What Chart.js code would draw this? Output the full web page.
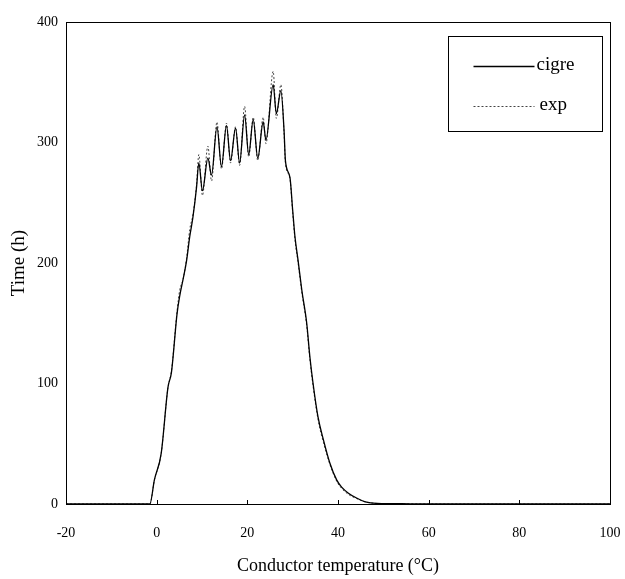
<!DOCTYPE html>
<html><head><meta charset="utf-8">
<script src="https://cdn.jsdelivr.net/npm/chart.js@4/dist/chart.umd.min.js"></script>
<style>html,body{margin:0;padding:0;background:#fff;}#wrap{width:625px;height:579px;}</style>
</head><body><div id="wrap"><canvas id="c" width="625" height="579"></canvas></div>
<script>
const temps = [-20,-2,-1.5,-0.5,1,2.5,3.25,4.5,5.1,5.8,6.6,7.3,8.0,8.8,9.3,10.1,11.3,12.1,13.3,14.3,15.4,16.3,17.4,18.3,19.4,20.3,21.3,22.3,23.5,24.1,25.7,26.4,27.4,28.1,28.4,29.4,30.0,30.5,31.2,32.0,33.1,33.8,34.5,35.6,36.8,38.2,39.7,40.8,42.3,44.1,46.3,48.6,52,56,60,100];
const cigre = [0,0,0,20,42,97,109,158,173,186,202,222,238,263,283,260,287,273,313,280,314,285,312,283,323,290,319,287,317,302,348,324,343,310,285,271,244,222,202,178,150,122,100,72,53,34,20,14,9,5,1.5,0.5,0.3,0.1,0,0];
const expData = [0,0,0,20,42,97,110,160,178,186,204,228,240,265,290,256,297,268,317,278,316,283,313,281,330,288,321,285,321,299,359,320,348,308,283,270,242,220,200,176,148,120,98,70,51,33,19,13,8,4.5,1.5,0.5,0.3,0.1,0,0];
const xTicks = [-20,0,20,40,60,80,100];
const yTicks = [0,100,200,300,400];
const seriesNames = ['cigre','exp'];

const FONT = '"Liberation Serif", "Times New Roman", serif';

const framePlugin = {
  id: 'frame',
  afterDatasetsDraw(chart) {
    const {ctx, chartArea: a, scales} = chart;
    ctx.save();
    ctx.strokeStyle = '#000';
    ctx.lineWidth = 1;
    ctx.strokeRect(Math.round(a.left)+0.5, Math.round(a.top)+0.5, Math.round(a.right-a.left), Math.round(a.bottom-a.top));
    ctx.beginPath();
    xTicks.forEach(v => {
      const px = Math.round(scales.x.getPixelForValue(v)) + 0.5;
      ctx.moveTo(px, a.bottom); ctx.lineTo(px, a.bottom - 4);
    });
    ctx.stroke();
    const bx = Math.round(a.right) - 161.5, by = Math.round(a.top) + 14.5, bw = 154, bh = 95;
    ctx.strokeRect(bx, by, bw, bh);
    const ds = chart.data.datasets;
    const rows = [by + 30, by + 70];
    ds.forEach((d, i) => {
      ctx.beginPath();
      ctx.strokeStyle = d.borderColor;
      ctx.lineWidth = d.borderWidth;
      ctx.setLineDash(d.borderDash || []);
      ctx.moveTo(bx + 25, rows[i]); ctx.lineTo(bx + 86, rows[i]);
      ctx.stroke();
      ctx.setLineDash([]);
      ctx.fillStyle = '#000';
      ctx.font = '19px ' + FONT;
      ctx.textBaseline = 'middle';
      ctx.fillText(d.label, bx + 88 + (i === 1 ? 3 : 0), rows[i] - 1);
    });
    ctx.restore();
  }
};

new Chart(document.getElementById('c'), {
  type: 'line',
  data: {
    datasets: [
      { label: seriesNames[0], data: temps.map((t,i)=>({x:t,y:cigre[i]})), borderColor: '#000', borderWidth: 1.3, pointRadius: 0, tension: 0.4, cubicInterpolationMode: 'monotone', fill: false },
      { label: seriesNames[1], data: temps.map((t,i)=>({x:t,y:expData[i]})), borderColor: '#444', borderWidth: 1, borderDash: [2,2], pointRadius: 0, tension: 0.4, cubicInterpolationMode: 'monotone', fill: false }
    ]
  },
  options: {
    responsive: false,
    animation: false,
    devicePixelRatio: 1,
    layout: { padding: { top: 22, right: 0, bottom: 2, left: 0 } },
    plugins: { legend: { display: false }, tooltip: { enabled: false } },
    scales: {
      x: {
        type: 'linear', min: -20, max: 100,
        afterBuildTicks: s => { s.ticks = xTicks.map(v => ({value: v})); },
        grid: { display: false },
        border: { display: false },
        ticks: { color: '#000', font: { family: FONT, size: 14 }, padding: 13, maxRotation: 0 },
        title: { display: true, text: 'Conductor temperature (°C)', color: '#000', font: { family: FONT, size: 18 }, padding: { top: 16, bottom: 0 } },
        afterFit: s => { s.height = 73; s.paddingRight = 15; s.paddingLeft = 0; }
      },
      y: {
        min: 0, max: 400,
        afterBuildTicks: s => { s.ticks = yTicks.map(v => ({value: v})); },
        grid: { display: false },
        border: { display: false },
        ticks: { color: '#000', font: { family: FONT, size: 14 }, padding: 0 },
        title: { display: true, text: 'Time (h)', color: '#000', font: { family: FONT, size: 19 }, padding: { top: 8, bottom: 0 } },
        afterFit: s => { s.width = 66; }
      }
    }
  },
  plugins: [framePlugin]
});
</script></body></html>
